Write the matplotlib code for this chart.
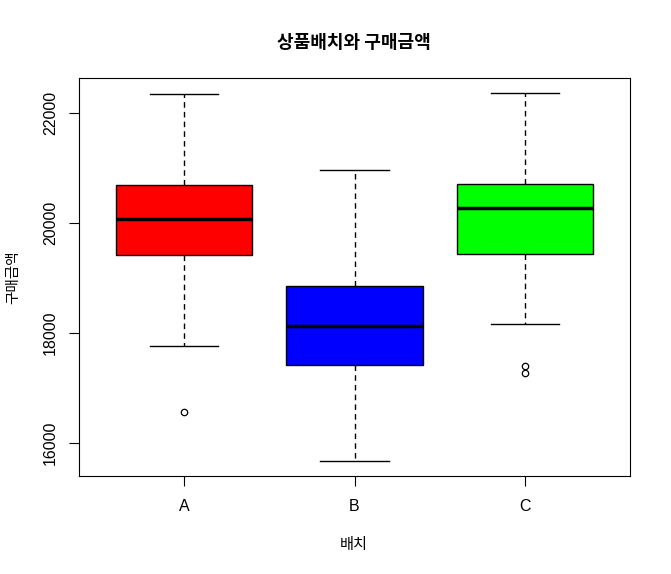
import matplotlib
matplotlib.use("Agg")
import matplotlib.pyplot as plt

plt.rcParams['font.family'] = ['Liberation Sans', 'Noto Sans CJK KR', 'DejaVu Sans']

categories = ["A", "B", "C"]
colors = ["#FF0000", "#0000FF", "#00FF00"]
whislo = [17764, 15673, 18164]
q1 = [19418, 17418, 19436]
med = [20073, 18127, 20273]
q3 = [20691, 18855, 20709]
whishi = [22345, 20964, 22364]
fliers = [[16564], [], [17400, 17273]]

stats = []
for i, c in enumerate(categories):
    stats.append(dict(label=c, whislo=whislo[i], q1=q1[i], med=med[i],
                      q3=q3[i], whishi=whishi[i], fliers=fliers[i]))

fig = plt.figure(figsize=(6.71, 5.74), dpi=100)
ax = fig.add_axes([79/671, (574-476)/574, 551/671, 398/574])

bp = ax.bxp(stats, positions=[1, 2, 3], widths=0.8, patch_artist=True,
            showfliers=True,
            boxprops=dict(edgecolor='black', linewidth=1.0),
            medianprops=dict(color='black', linewidth=2.5),
            whiskerprops=dict(color='black', linestyle=(0, (4, 3)), linewidth=1.0),
            capprops=dict(color='black', linewidth=1.0),
            capwidths=0.4,
            flierprops=dict(marker='o', markerfacecolor='white', markeredgecolor='black',
                            markersize=4.6, markeredgewidth=0.9))
for patch, col in zip(bp['boxes'], colors):
    patch.set_facecolor(col)

ax.set_xlim(0.38, 3.62)
ax.set_ylim(15400, 22636)
ax.set_yticks([16000, 18000, 20000, 22000])
ax.set_yticklabels(["16000", "18000", "20000", "22000"], rotation=90, va='center')
ax.set_xticks([1, 2, 3])
ax.set_xticklabels(categories)
ax.tick_params(axis='both', labelsize=11.5, length=7.2, width=0.8, pad=8)
ax.tick_params(axis='x', pad=9.5)
for s in ax.spines.values():
    s.set_linewidth(0.8)

fig.text(354/671, 1 - 42/574, "상품배치와 구매금액", ha='center', va='center',
         fontsize=13, fontweight='bold', family=['Noto Sans CJK KR'])
fig.text(354/671, 1 - 545/574, "배치", ha='center', va='center',
         fontsize=11, family=['Noto Sans CJK KR'])
fig.text(13/671, 1 - 277/574, "구매금액", ha='center', va='center', rotation=90,
         fontsize=10.5, family=['Noto Sans CJK KR'])

fig.savefig("out.png", dpi=100)
